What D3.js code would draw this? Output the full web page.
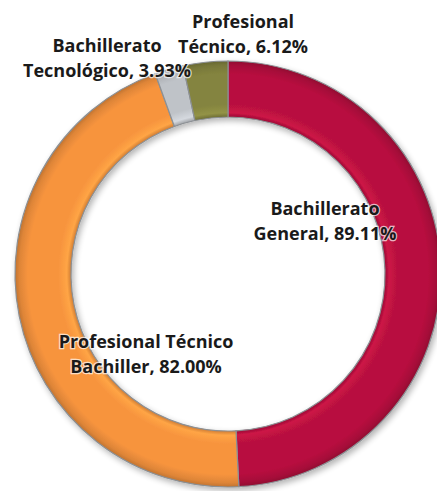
<!DOCTYPE html>
<html>
<head>
<meta charset="utf-8">
<script src="https://cdn.jsdelivr.net/npm/d3@7"></script>
<style>
  body { margin: 0; background: #fff; }
  text { font-family: "Open Sans", Lato, sans-serif; font-weight: bold; }
</style>
</head>
<body>
<div id="chart"></div>
<script>
// Data
const categories = ["Bachillerato General", "Profesional Técnico Bachiller", "Bachillerato Tecnológico", "Profesional Técnico"];
const values = [89.11, 82.00, 3.93, 6.12];
const labelLines = [
    ["Bachillerato", "General, 89.11%"],
    ["Profesional Técnico", "Bachiller, 82.00%"],
    ["Bachillerato", "Tecnológico, 3.93%"],
    ["Profesional", "Técnico, 6.12%"]
];

// Layout
const width = 437;
const height = 491;
const cx = 228, cy = 274;
const outerR = 213, innerR = 157;
const colors = ["#b8113f", "#f7943e", "#bfc3c8", "#84843f"];
// label centre offsets from the donut centre (first line baseline)
const labelOffsets = [[97, -59], [-82, 74], [-121, -222], [15, -246]];

const svg = d3.select("#chart")
    .append("svg")
    .attr("width", width)
    .attr("height", height);

const defs = svg.append("defs");

// soft shadow for the ring
const shadow = defs.append("filter")
    .attr("id", "shadow")
    .attr("x", "-10%").attr("y", "-10%")
    .attr("width", "120%").attr("height", "120%");
shadow.append("feGaussianBlur").attr("in", "SourceAlpha").attr("stdDeviation", 3).attr("result", "b");
shadow.append("feOffset").attr("in", "b").attr("dx", 2).attr("dy", 3).attr("result", "o");
shadow.append("feComponentTransfer").attr("in", "o").attr("result", "s")
    .append("feFuncA").attr("type", "linear").attr("slope", 0.3);
const merge = shadow.append("feMerge");
merge.append("feMergeNode").attr("in", "s");
merge.append("feMergeNode").attr("in", "SourceGraphic");

// bevel-like radial gradients, one per slice (centred on the ring's own origin)
const k = innerR / outerR;
colors.forEach((c, i) => {
    const base = d3.color(c);
    const g = defs.append("radialGradient")
        .attr("id", "grad" + i)
        .attr("gradientUnits", "userSpaceOnUse")
        .attr("cx", 0).attr("cy", 0).attr("r", outerR);
    const stops = [
        [k, base.darker(0.5)],
        [k + 0.02, base.brighter(0.3)],
        [k + 0.06, base],
        [0.94, base],
        [0.98, base.darker(0.3)],
        [1, base.darker(0.7)]
    ];
    stops.forEach(([o, col]) => {
        g.append("stop").attr("offset", o).attr("stop-color", col.formatHex());
    });
});

const pie = d3.pie().sort(null).value(d => d);
const arc = d3.arc().innerRadius(innerR).outerRadius(outerR);

const ring = svg.append("g")
    .attr("transform", `translate(${cx},${cy})`)
    .attr("filter", "url(#shadow)");

ring.selectAll("path")
    .data(pie(values))
    .join("path")
    .attr("d", arc)
    .attr("fill", (d, i) => `url(#grad${i})`)
    .attr("stroke", "#8c9094")
    .attr("stroke-width", 1.2);

// Labels
const labels = svg.append("g")
    .attr("transform", `translate(${cx},${cy})`);

labels.selectAll("text")
    .data(categories)
    .join("text")
    .attr("text-anchor", "middle")
    .attr("x", (d, i) => labelOffsets[i][0])
    .attr("y", (d, i) => labelOffsets[i][1])
    .attr("font-size", 18)
    .attr("fill", "#1a1a1a")
    .attr("stroke", "rgba(255,255,255,0.7)")
    .attr("stroke-width", 2.5)
    .attr("paint-order", "stroke")
    .each(function(d, i) {
        d3.select(this).selectAll("tspan")
            .data(labelLines[i])
            .join("tspan")
            .attr("x", labelOffsets[i][0])
            .attr("dy", (t, j) => j === 0 ? 0 : 24.5)
            .text(t => t);
    });
</script>
</body>
</html>
